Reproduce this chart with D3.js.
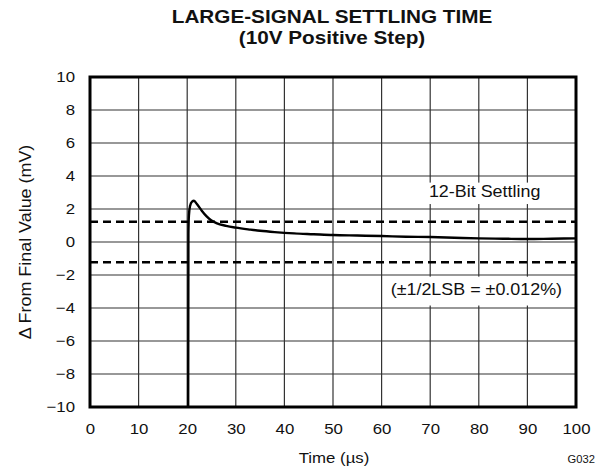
<!DOCTYPE html>
<html><head><meta charset="utf-8">
<script src="https://cdn.jsdelivr.net/npm/d3@7"></script>
<style>body{margin:0;background:#fff}svg{display:block;font-family:Arial,"Liberation Sans",Helvetica,sans-serif}</style>
</head><body>
<svg id="c" width="603" height="471"></svg>
<script>
const title1 = "LARGE-SIGNAL SETTLING TIME";
const title2 = "(10V Positive Step)";
const xLabel = "Time (\u00B5s)";
const yLabel = "\u0394 From Final Value (mV)";
const xTicks = [0,10,20,30,40,50,60,70,80,90,100];
const yTicks = [-10,-8,-6,-4,-2,0,2,4,6,8,10];
const bandLimit = [1.22, -1.22];
const settleLabel = "12-Bit Settling";
const lsbLabel = "(\u00B11/2LSB = \u00B10.012%)";
const timeUs = [20.2,20.25,20.35,20.6,21.0,21.4,22,23,24,25,26,28,30,33,35,38,42,46,50,55,60,65,70,75,80,85,90,95,100];
const deltaMv = [-10,0.5,1.6,2.2,2.45,2.5,2.3,1.9,1.55,1.3,1.15,0.98,0.87,0.75,0.68,0.6,0.52,0.47,0.42,0.39,0.36,0.32,0.3,0.26,0.22,0.2,0.18,0.2,0.22];

const svg = d3.select("#c");
const L=90, R=576, T=77, B=407;
const SX = 1.12;
const x = d3.scaleLinear().domain([0,100]).range([L,R]);
const y = d3.scaleLinear().domain([-10,10]).range([B,T]);

function txt(str, px, py, size, opts={}) {
  const rot = opts.rotate ? ` rotate(${opts.rotate})` : "";
  return svg.append("text")
    .attr("transform", `translate(${px},${py})${rot} scale(${opts.sx||SX},1)`)
    .attr("text-anchor", opts.anchor || "middle")
    .attr("font-size", size)
    .attr("font-weight", opts.bold ? "bold" : "normal")
    .attr("fill", "#111").text(str);
}

// grid
const g = svg.append("g");
g.selectAll(".vx").data(xTicks.slice(1,-1)).enter().append("line")
  .attr("x1",d=>x(d)).attr("x2",d=>x(d)).attr("y1",T).attr("y2",B)
  .attr("stroke","#333").attr("stroke-width",1.2);
g.selectAll(".hy").data(yTicks.slice(1,-1)).enter().append("line")
  .attr("y1",d=>y(d)).attr("y2",d=>y(d)).attr("x1",L).attr("x2",R)
  .attr("stroke","#333").attr("stroke-width",1.2);

// label boxes
svg.append("rect").attr("x",x(61)).attr("y",y(3.6)).attr("width",x(99.8)-x(61)).attr("height",y(2.3)-y(3.6)).attr("fill","#fff");
svg.append("rect").attr("x",x(61)).attr("y",y(-2.1)).attr("width",x(99.8)-x(61)).attr("height",y(-3.85)-y(-2.1)).attr("fill","#fff");

txt(settleLabel, x(81.2), y(2.7), 16);
txt(lsbLabel, x(79.5), y(-3.2), 16);

// dashed band
svg.selectAll(".band").data(bandLimit).enter().append("line")
  .attr("x1",L).attr("x2",R).attr("y1",d=>y(d)).attr("y2",d=>y(d))
  .attr("stroke","#000").attr("stroke-width",2.5).attr("stroke-dasharray","8,5");

// curve
const pts = timeUs.map((t,i)=>[t,deltaMv[i]]);
svg.append("path").datum(pts)
  .attr("d", d3.line().x(d=>x(d[0])).y(d=>y(d[1])).curve(d3.curveMonotoneX))
  .attr("fill","none").attr("stroke","#000").attr("stroke-width",2.4).attr("stroke-linejoin","round");

// frame
svg.append("rect").attr("x",L).attr("y",T).attr("width",R-L).attr("height",B-T)
  .attr("fill","none").attr("stroke","#000").attr("stroke-width",3);

// axes (ticks positions from d3 axes, labels styled)
const xa = svg.append("g").attr("transform",`translate(0,${B})`)
  .call(d3.axisBottom(x).tickValues(xTicks).tickSize(0).tickPadding(16).tickFormat(d3.format("d")));
const ya = svg.append("g").attr("transform",`translate(${L},0)`)
  .call(d3.axisLeft(y).tickValues(yTicks).tickSize(0).tickPadding(15).tickFormat(d=>d<0?"\u2212"+Math.abs(d):d));
[xa,ya].forEach(a=>{
  a.select(".domain").remove();
  a.selectAll("text").attr("font-size",15).attr("fill","#111")
   .attr("font-family","Arial,'Liberation Sans',sans-serif");
});
xa.selectAll(".tick text").attr("transform",`scale(${SX},1)`).attr("x",0);
ya.selectAll(".tick text").attr("transform",`translate(-15,0) scale(${SX},1)`).attr("x",0);

txt(title1, 332, 23, 18.5, {bold:true});
txt(title2, 332, 44, 18.5, {bold:true});
txt(xLabel, 334, 463, 15);
txt(yLabel, 31, 242, 16, {rotate:-90});
txt("G032", 595, 463, 10, {anchor:"end"});
</script>
</body></html>
